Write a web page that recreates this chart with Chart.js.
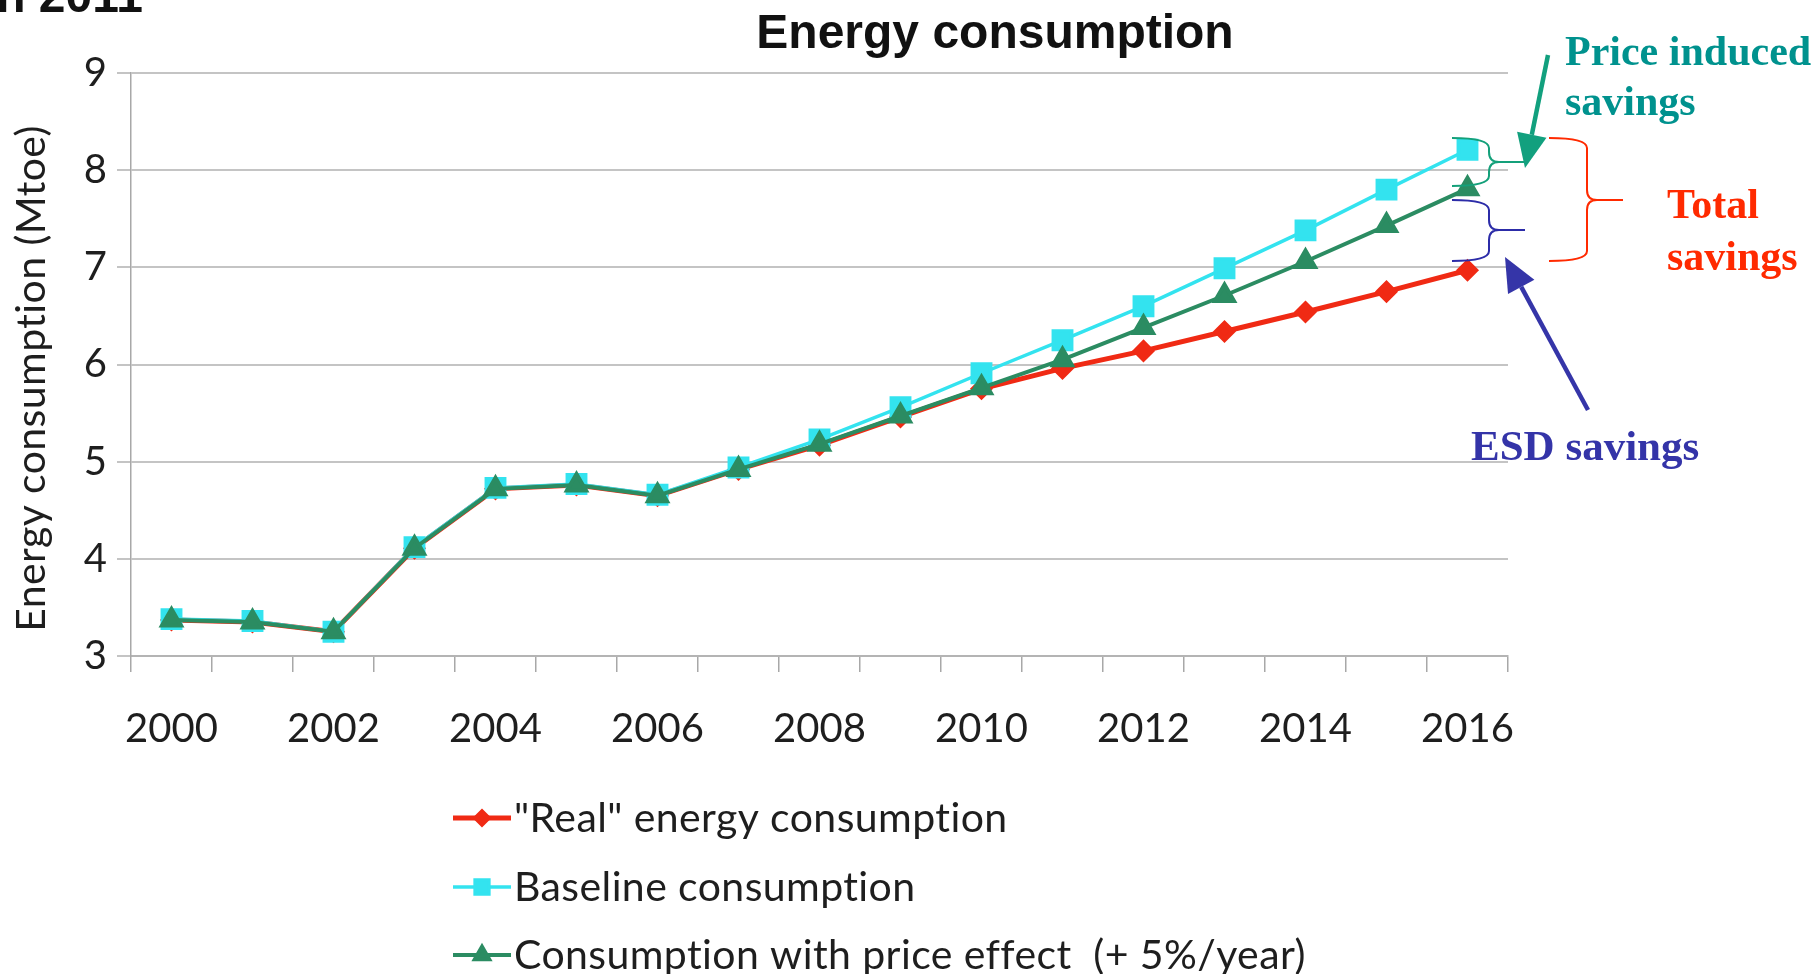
<!DOCTYPE html>
<html lang="en">
<head>
    <meta charset="utf-8">
    <script src="https://cdn.jsdelivr.net/npm/chart.js"></script>
    <style>
        html, body { margin: 0; padding: 0; background: #ffffff; }
        #energyChart { display: block; }
    </style>
</head>
<body>
    <canvas id="energyChart" width="1818" height="974"></canvas>

    <script>
        // Years on the category axis
        const years = ['2000', '2001', '2002', '2003', '2004', '2005', '2006', '2007', '2008',
                       '2009', '2010', '2011', '2012', '2013', '2014', '2015', '2016'];

        // Mtoe per year
        const realConsumption = [3.37, 3.35, 3.25, 4.11, 4.72, 4.76, 4.65, 4.92, 5.17,
                                 5.46, 5.75, 5.96, 6.14, 6.34, 6.54, 6.75, 6.97];
        const baselineConsumption = [3.38, 3.36, 3.25, 4.12, 4.73, 4.77, 4.66, 4.94, 5.23,
                                     5.56, 5.91, 6.25, 6.60, 6.99, 7.38, 7.80, 8.21];
        const priceEffectConsumption = [3.37, 3.35, 3.25, 4.11, 4.72, 4.76, 4.65, 4.92, 5.18,
                                        5.47, 5.76, 6.05, 6.38, 6.71, 7.06, 7.43, 7.81];

        const yTicks = [3, 4, 5, 6, 7, 8, 9];

        const seriesNames = ['"Real" energy consumption', 'Baseline consumption',
                             'Consumption with price effect  (+ 5%/year)'];
        const yTitle = 'Energy consumption (Mtoe)';

        const RED = '#f02a14';
        const CYAN = '#33e3ef';
        const GREEN = '#2b8c62';

        // title, axis title, braces/arrows and the vertical legend
        const overlay = {
            id: 'overlay',
            afterDraw(chart) {
                const ctx = chart.ctx;
                const area = chart.chartArea;
                ctx.save();

                // slide heading cut off at the top edge
                ctx.fillStyle = '#111';
                ctx.font = 'bold 48px "Liberation Sans", Arial, sans-serif';
                ctx.textAlign = 'right';
                ctx.textBaseline = 'alphabetic';
                ctx.fillText('in 2011', 143, 12);

                ctx.textAlign = 'center';
                ctx.fillText('Energy consumption', 995, 48);

                // rotated y-axis title
                ctx.save();
                ctx.translate(32, (area.top + area.bottom) / 2 + 14);
                ctx.rotate(-Math.PI / 2);
                ctx.font = '41px Lato, sans-serif';
                ctx.letterSpacing = '0.4px';
                ctx.textBaseline = 'middle';
                ctx.fillStyle = '#1e1e1e';
                ctx.fillText(yTitle, 0, 0);
                ctx.restore();

                // braces
                function brace(x0, xm, xt, yT, yM, yB, color) {
                    const r = 10;
                    ctx.strokeStyle = color;
                    ctx.lineWidth = 2;
                    ctx.beginPath();
                    ctx.moveTo(x0, yT);
                    ctx.quadraticCurveTo(xm, yT, xm, yT + r);
                    ctx.lineTo(xm, yM - r);
                    ctx.quadraticCurveTo(xm, yM, xm + r, yM);
                    ctx.lineTo(xt, yM);
                    ctx.moveTo(xm + r, yM);
                    ctx.quadraticCurveTo(xm, yM, xm, yM + r);
                    ctx.lineTo(xm, yB - r);
                    ctx.quadraticCurveTo(xm, yB, x0, yB);
                    ctx.stroke();
                }
                brace(1452, 1489, 1528, 138, 162, 186, '#14a07a');
                brace(1452, 1489, 1525, 200, 230, 261, '#2c2ca8');
                brace(1549, 1587, 1623, 138, 200, 261, '#ff2a00');

                // arrows
                function arrow(x1, y1, x2, y2, color) {
                    const ang = Math.atan2(y2 - y1, x2 - x1);
                    const len = 34, half = 15;
                    const bx = x2 - Math.cos(ang) * len, by = y2 - Math.sin(ang) * len;
                    ctx.strokeStyle = color;
                    ctx.fillStyle = color;
                    ctx.lineWidth = 4.5;
                    ctx.beginPath();
                    ctx.moveTo(x1, y1);
                    ctx.lineTo(bx, by);
                    ctx.stroke();
                    ctx.beginPath();
                    ctx.moveTo(x2, y2);
                    ctx.lineTo(bx + Math.sin(ang) * half, by - Math.cos(ang) * half);
                    ctx.lineTo(bx - Math.sin(ang) * half, by + Math.cos(ang) * half);
                    ctx.closePath();
                    ctx.fill();
                }
                arrow(1548, 55, 1525, 168, '#12a07e');
                arrow(1588, 410, 1505, 257, '#3535a8');

                // annotation labels
                ctx.textAlign = 'left';
                ctx.font = 'bold 42px "Liberation Serif", "Times New Roman", serif';
                ctx.fillStyle = '#00928e';
                ctx.fillText('Price induced', 1565, 65);
                ctx.fillText('savings', 1565, 115);
                ctx.fillStyle = '#ff2a00';
                ctx.fillText('Total', 1667, 218);
                ctx.fillText('savings', 1667, 270);
                ctx.fillStyle = '#3434a8';
                ctx.font = 'bold 43px "Liberation Serif", "Times New Roman", serif';
                ctx.fillText('ESD savings', 1471, 460);

                // legend, one entry per row
                const rows = [818, 887, 955];
                ctx.font = '41px Lato, sans-serif';
                ctx.letterSpacing = '0.4px';
                ctx.textBaseline = 'middle';
                chart.data.datasets.forEach((ds, i) => {
                    const y = rows[i];
                    ctx.strokeStyle = ds.borderColor;
                    ctx.lineWidth = ds.borderWidth;
                    ctx.beginPath();
                    ctx.moveTo(453, y);
                    ctx.lineTo(511, y);
                    ctx.stroke();
                    ctx.fillStyle = ds.pointBackgroundColor;
                    ctx.strokeStyle = ds.pointBorderColor;
                    Chart.helpers.drawPoint(ctx, {
                        pointStyle: ds.pointStyle,
                        rotation: 0,
                        radius: ds.pointRadius * 0.75,
                        borderWidth: 1
                    }, 482, y);
                    ctx.fillStyle = '#1e1e1e';
                    ctx.fillText(ds.label, 514, y + 1);
                });

                ctx.restore();
            }
        };

        const ctx = document.getElementById('energyChart').getContext('2d');
        new Chart(ctx, {
            type: 'line',
            data: {
                labels: years,
                datasets: [{
                    label: seriesNames[0],
                    data: realConsumption,
                    borderColor: RED,
                    backgroundColor: RED,
                    pointBackgroundColor: RED,
                    pointBorderColor: RED,
                    borderWidth: 5,
                    pointStyle: 'rectRot',
                    pointRadius: 8,
                    order: 2
                }, {
                    label: seriesNames[1],
                    data: baselineConsumption,
                    borderColor: CYAN,
                    backgroundColor: CYAN,
                    pointBackgroundColor: CYAN,
                    pointBorderColor: CYAN,
                    borderWidth: 3.5,
                    pointStyle: 'rect',
                    pointRadius: 13,
                    order: 1
                }, {
                    label: seriesNames[2],
                    data: priceEffectConsumption,
                    borderColor: GREEN,
                    backgroundColor: GREEN,
                    pointBackgroundColor: GREEN,
                    pointBorderColor: GREEN,
                    borderWidth: 4,
                    pointStyle: 'triangle',
                    pointRadius: 11,
                    order: 0
                }]
            },
            options: {
                responsive: false,
                animation: false,
                events: [],
                layout: { padding: { top: 73, right: 310, left: 0, bottom: 0 } },
                plugins: {
                    legend: { display: false },
                    tooltip: { enabled: false }
                },
                elements: { line: { tension: 0 } },
                scales: {
                    x: {
                        offset: true,
                        grid: {
                            offset: true,
                            drawOnChartArea: false,
                            tickLength: 16,
                            color: '#a8a8a8',
                            lineWidth: 1.5
                        },
                        border: { color: '#b4b4b4', width: 2 },
                        ticks: {
                            autoSkip: false,
                            maxRotation: 0,
                            padding: 33,
                            color: '#1e1e1e',
                            font: { family: 'Lato', size: 40 },
                            callback: (v, i) => (i % 2 === 0 ? years[i] : '')
                        },
                        afterFit: (s) => { s.height = 974 - 656; }
                    },
                    y: {
                        min: yTicks[0],
                        max: yTicks[yTicks.length - 1],
                        afterBuildTicks: (s) => { s.ticks = yTicks.map((v) => ({ value: v })); },
                        grid: { color: '#c4c4c4', lineWidth: 2, tickLength: 14 },
                        border: { color: '#a8a8a8', width: 1.5 },
                        ticks: {
                            padding: 10,
                            color: '#1e1e1e',
                            font: { family: 'Lato', size: 40 }
                        },
                        afterFit: (s) => { s.width = 131; }
                    }
                }
            },
            plugins: [overlay]
        });
    </script>
</body>
</html>
